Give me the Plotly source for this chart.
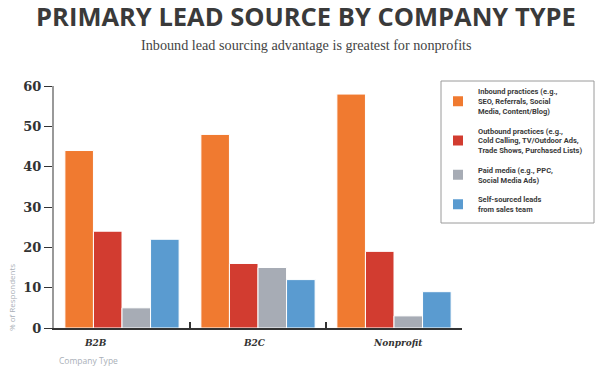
import plotly.graph_objects as go

categories = ["B2B", "B2C", "Nonprofit"]
series_names = [
    "Inbound practices (e.g.,<br>SEO, Referrals, Social<br>Media, Content/Blog)",
    "Outbound practices (e.g.,<br>Cold Calling, TV/Outdoor Ads,<br>Trade Shows, Purchased Lists)",
    "Paid media (e.g., PPC,<br>Social Media Ads)",
    "Self-sourced leads<br>from sales team",
]
inbound = [44, 48, 58]
outbound = [24, 16, 19]
paid = [5, 15, 3]
self_sourced = [22, 12, 9]
colors = ["#F07A30", "#D23C30", "#A7ACB5", "#5A9BD0"]
y_ticks = [0, 10, 20, 30, 40, 50, 60]
label_shift = [-27, -4, 4]

# plot area in pixels
L, R, T, B = 54, 462, 86, 328
PW, PH = R - L, B - T

fig = go.Figure()
for i, (name, vals, col) in enumerate(zip(series_names, [inbound, outbound, paid, self_sourced], colors)):
    fig.add_trace(go.Bar(x=categories, y=vals, name=name, legendgroup=f"g{i}",
                         marker=dict(color=col, line=dict(color="white", width=1))))

fig.update_layout(
    width=600, height=373,
    margin=dict(l=L, r=600 - R, t=T, b=373 - B, autoexpand=False),
    paper_bgcolor="white", plot_bgcolor="white",
    barmode="group", bargap=0.16, bargroupgap=0,
    showlegend=True,
    legend=dict(
        x=438 / 600, xanchor="left", y=1 - 80 / 373, yanchor="top",
        xref="container", yref="container",
        borderwidth=0, bgcolor="rgba(0,0,0,0)",
        font=dict(family="Roboto", size=7.5, color="#3a3a3a", weight="bold"),
        tracegroupgap=7, itemsizing="constant",
    ),
    title=dict(
        text="PRIMARY LEAD SOURCE BY COMPANY TYPE",
        x=306 / 600, xanchor="center", y=1 - 17 / 373, yanchor="middle",
        font=dict(family="Open Sans", size=25.5, color="#3a3a3a", weight="bold"),
    ),
)

# legend frame
fig.add_shape(type="rect", xref="paper", yref="paper",
              x0=(441 - L) / PW, x1=(594 - L) / PW,
              y0=(B - 223) / PH, y1=(B - 81) / PH,
              line=dict(color="#9a9a9a", width=1), fillcolor="rgba(0,0,0,0)", layer="below")

fig.update_xaxes(
    showline=True, linecolor="#333", linewidth=1.5,
    ticks="inside", tickson="boundaries", ticklen=6, tickcolor="#333", tickwidth=1.5,
    showticklabels=False, showgrid=False,
)
fig.update_yaxes(
    range=[0, 60], tickvals=y_ticks,
    showline=True, linecolor="#999", linewidth=2,
    ticks="outside", ticklen=8, tickcolor="#333", tickwidth=1.2,
    tickfont=dict(family="DejaVu Serif", size=13, color="#333", weight="bold"),
    showgrid=False, zeroline=False,
)

for cat, sh in zip(categories, label_shift):
    fig.add_annotation(text=cat, x=cat, xref="x", yref="paper", y=-(343 - B) / PH,
                       xshift=sh, xanchor="center", yanchor="middle", showarrow=False,
                       font=dict(family="DejaVu Serif", size=9, color="#333",
                                 style="italic", weight="bold"))

fig.add_annotation(text="Inbound lead sourcing advantage is greatest for nonprofits",
                   xref="paper", yref="paper", x=(306 - L) / PW, y=1 + (T - 45) / PH,
                   xanchor="center", yanchor="middle", showarrow=False,
                   font=dict(family="Liberation Serif", size=14.2, color="#444"))
fig.add_annotation(text="% of Respondents", textangle=-90,
                   xref="paper", yref="paper", x=-(L - 11) / PW, y=(B - 298) / PH,
                   xanchor="center", yanchor="middle", showarrow=False,
                   font=dict(family="Open Sans", size=8, color="#aab0b8"))
fig.add_annotation(text="Company Type",
                   xref="paper", yref="paper", x=(57 - L) / PW, y=-(361 - B) / PH,
                   xanchor="left", yanchor="middle", showarrow=False,
                   font=dict(family="Open Sans", size=8.5, color="#aab0b8"))

fig.write_html("out.html", config={"displayModeBar": False},
               post_script="document.body.style.margin='0';")
